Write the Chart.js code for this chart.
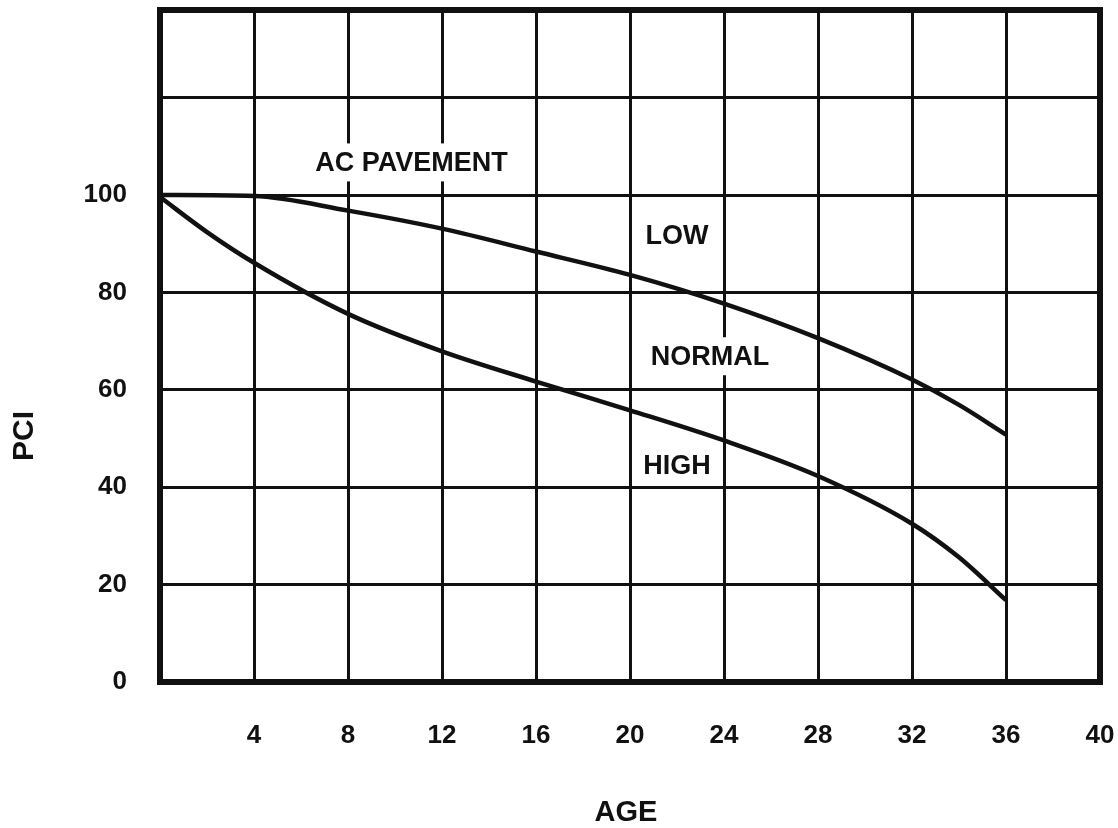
<!DOCTYPE html>
<html>
<head>
<meta charset="utf-8">
<script src="https://cdn.jsdelivr.net/npm/chart.js@4.4.1/dist/chart.umd.min.js"></script>
<style>
    html, body { margin: 0; padding: 0; background: #fff; }
    #wrap { width: 1118px; height: 828px; }
</style>
</head>
<body>
<div id="wrap"><canvas id="pciChart" width="1118" height="828"></canvas></div>
<script>
// axis ticks
const ageTicks = [0, 4, 8, 12, 16, 20, 24, 28, 32, 36, 40];
const pciTicks = [0, 20, 40, 60, 80, 100, 120];

// upper curve (LOW / NORMAL boundary)
const upperAge = [0, 4, 8, 12, 16, 20, 24, 28, 32, 34, 36];
const upperPci = [100, 99.8, 96.8, 93.1, 88.4, 83.6, 77.7, 70.6, 62.1, 56.9, 50.8];

// lower curve (NORMAL / HIGH boundary)
const lowerAge = [0, 2, 4, 8, 12, 16, 20, 24, 28, 32, 34, 36];
const lowerPci = [99.6, 92.4, 86.1, 75.6, 67.9, 61.7, 55.8, 49.6, 42.3, 32.5, 25.6, 16.8];

// text inside the plot
const zoneText = ['AC PAVEMENT', 'LOW', 'NORMAL', 'HIGH'];
const zoneAge = [10.7, 22.0, 23.4, 22.0];
const zonePci = [106.7, 91.6, 66.9, 44.4];

const INK = '#111';
const FONT = '"Liberation Sans", Arial, Helvetica, sans-serif';

function toPoints(xs, ys) {
    return xs.map((x, i) => ({ x: x, y: ys[i] }));
}

function noPadding(s) {
    s.paddingLeft = 0;
    s.paddingRight = 0;
    s.paddingTop = 0;
    s.paddingBottom = 0;
}

const zoneLabels = {
    id: 'zoneLabels',
    beforeDatasetsDraw(chart) {
        const { ctx, scales } = chart;
        ctx.save();
        ctx.font = 'bold 27px ' + FONT;
        ctx.textAlign = 'center';
        ctx.textBaseline = 'middle';
        zoneText.forEach((t, i) => {
            const px = scales.x.getPixelForValue(zoneAge[i]);
            const py = scales.y.getPixelForValue(zonePci[i]);
            const w = ctx.measureText(t).width;
            ctx.fillStyle = '#fff';
            ctx.fillRect(px - w / 2 - 6, py - 19, w + 12, 38);
            ctx.fillStyle = INK;
            ctx.fillText(t, px, py + 1);
        });
        ctx.restore();
    },
    afterDatasetsDraw(chart) {
        const { ctx, chartArea: a } = chart;
        ctx.save();
        ctx.strokeStyle = INK;
        ctx.lineWidth = 6;
        ctx.strokeRect(a.left, a.top, a.right - a.left, a.bottom - a.top);

        ctx.fillStyle = INK;
        ctx.textAlign = 'center';
        ctx.textBaseline = 'middle';
        ctx.font = 'bold 29px ' + FONT;
        ctx.fillText('AGE', (a.left + a.right) / 2 - 4, 813);

        ctx.translate(25, 436);
        ctx.rotate(-Math.PI / 2);
        ctx.font = 'bold 30px ' + FONT;
        ctx.fillText('PCI', 0, 0);
        ctx.restore();
    }
};

const lineStyle = {
    borderColor: INK,
    borderWidth: 4.5,
    pointRadius: 0,
    fill: false,
    cubicInterpolationMode: 'monotone'
};

new Chart(document.getElementById('pciChart'), {
    type: 'line',
    data: {
        datasets: [
            Object.assign({ label: 'Low / Normal', data: toPoints(upperAge, upperPci) }, lineStyle),
            Object.assign({ label: 'Normal / High', data: toPoints(lowerAge, lowerPci) }, lineStyle)
        ]
    },
    options: {
        responsive: false,
        animation: false,
        devicePixelRatio: 1,
        layout: { padding: { left: 0, right: 18, top: 10, bottom: 0 } },
        plugins: {
            legend: { display: false },
            tooltip: { enabled: false }
        },
        scales: {
            x: {
                type: 'linear',
                min: 0,
                max: 40,
                afterBuildTicks: s => { s.ticks = ageTicks.map(v => ({ value: v })); },
                afterFit: s => { s.height = 146; noPadding(s); },
                grid: { color: INK, lineWidth: 3, drawTicks: false },
                border: { display: false },
                ticks: {
                    padding: 38,
                    color: INK,
                    font: { family: FONT, size: 26, weight: 'bold' },
                    maxRotation: 0,
                    callback: v => (v === 0 ? '' : v)
                }
            },
            y: {
                type: 'linear',
                min: 0,
                max: 138,
                afterBuildTicks: s => { s.ticks = pciTicks.map(v => ({ value: v })); },
                afterFit: s => { s.width = 160; noPadding(s); },
                grid: { color: INK, lineWidth: 3, drawTicks: false },
                border: { display: false },
                ticks: {
                    padding: 33,
                    color: INK,
                    font: { family: FONT, size: 26, weight: 'bold' },
                    callback: v => (v > 100 ? '' : v)
                }
            }
        }
    },
    plugins: [zoneLabels]
});
</script>
</body>
</html>
